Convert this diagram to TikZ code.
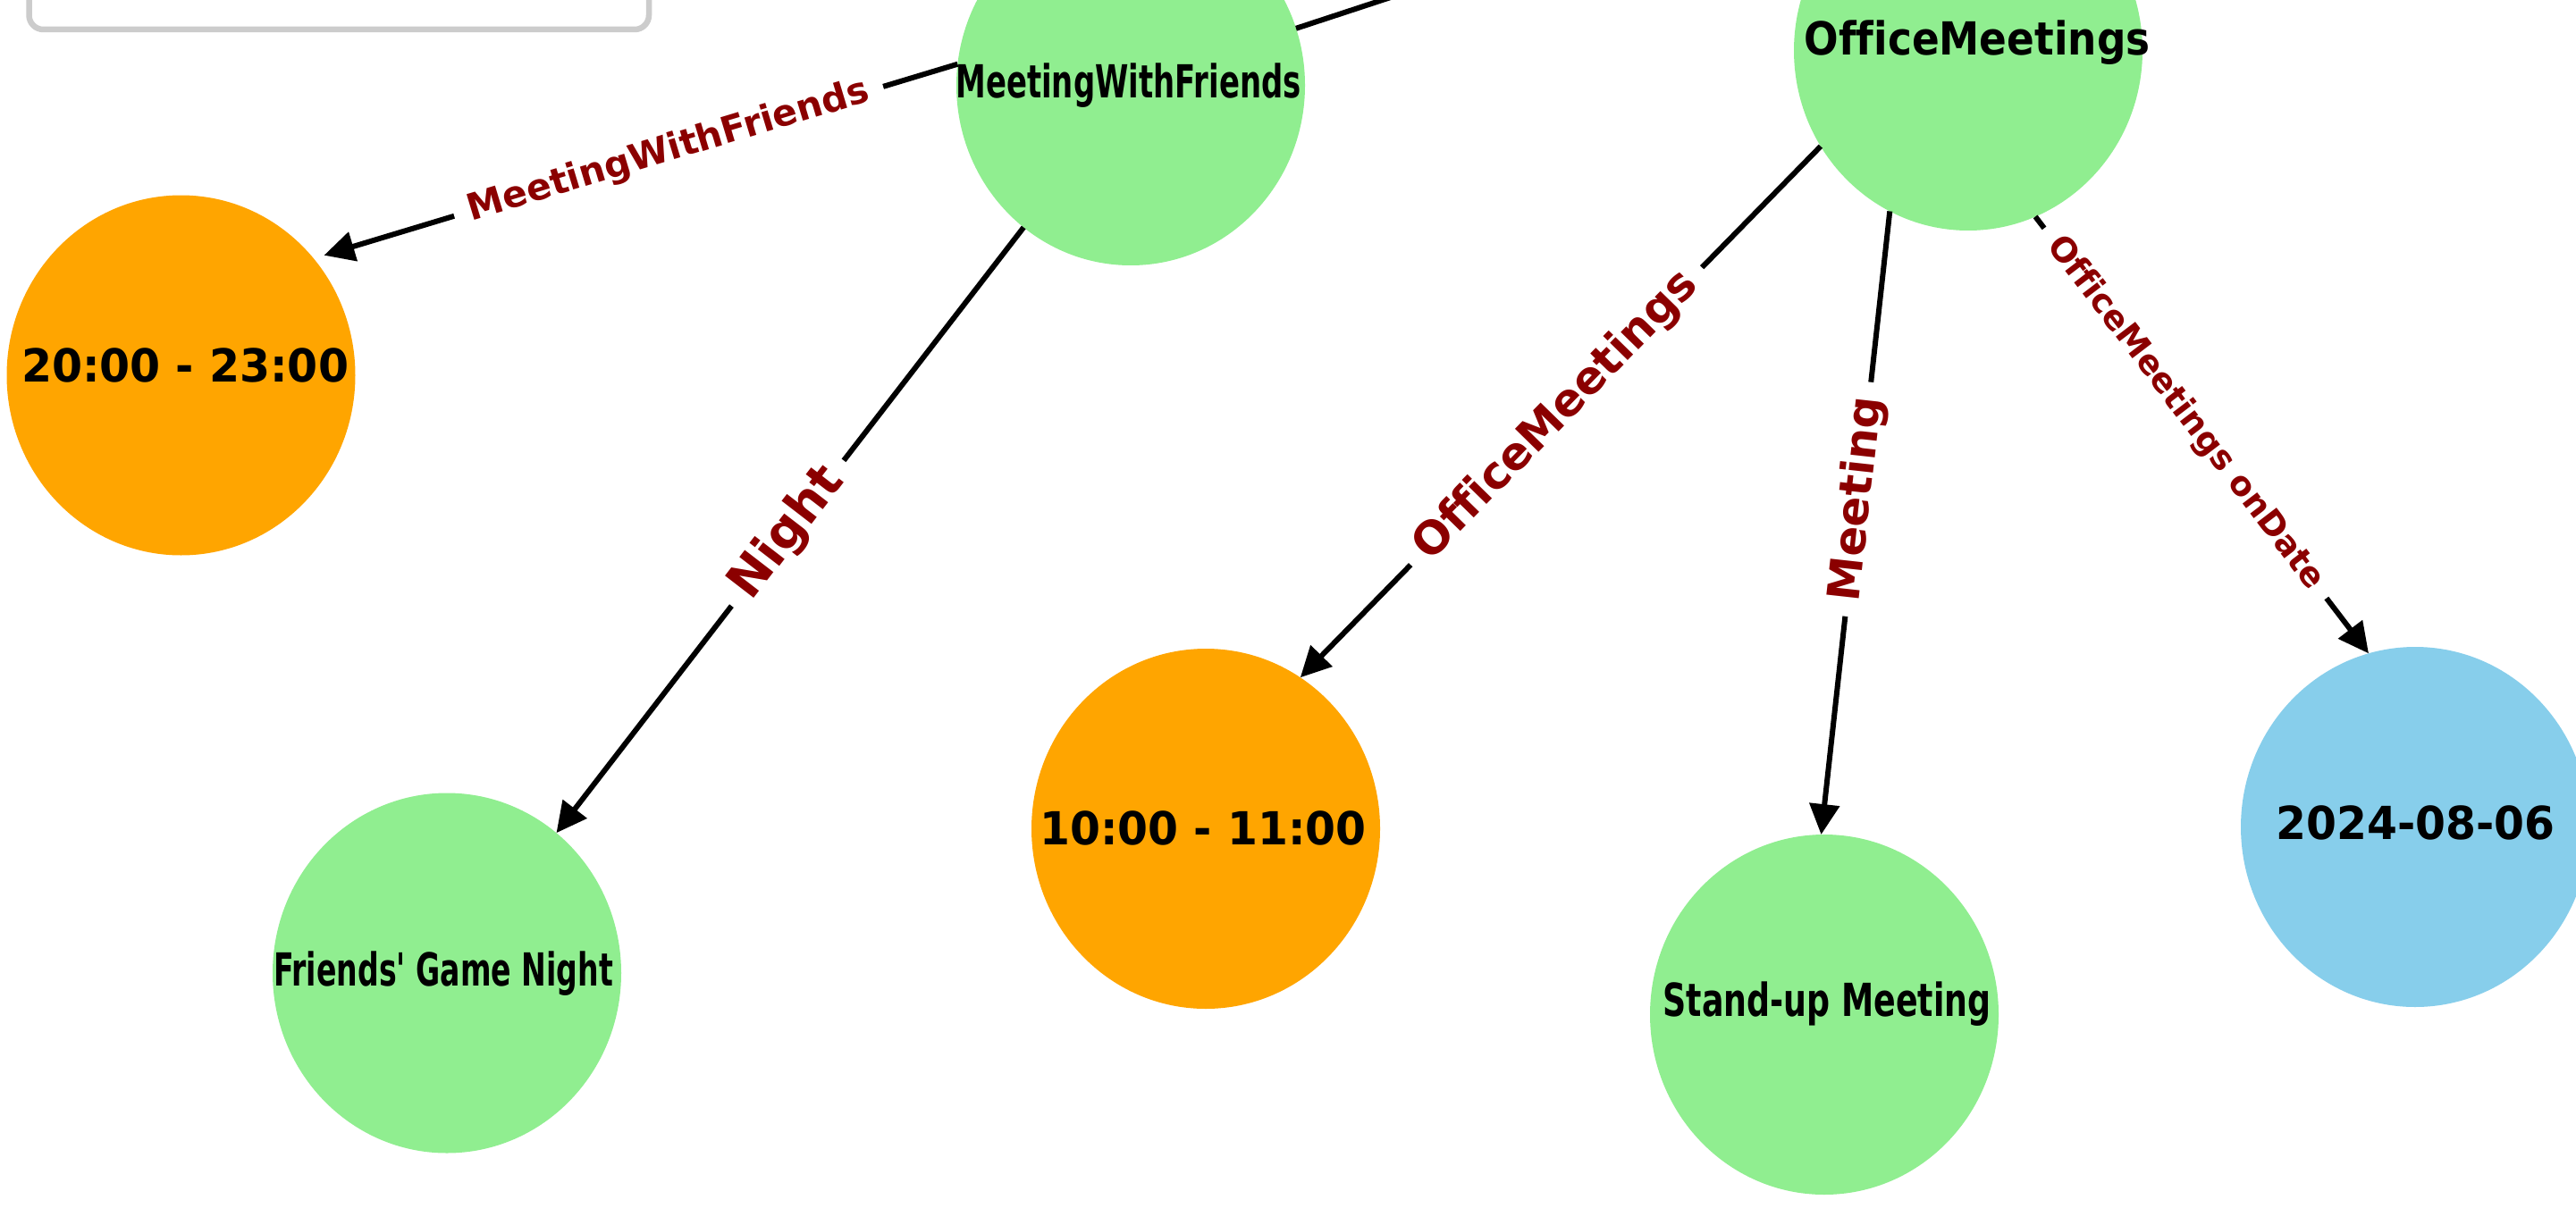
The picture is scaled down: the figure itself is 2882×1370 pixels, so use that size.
\documentclass[tikz,border=0pt]{standalone}
\usepackage{fontspec}
\setmainfont{DejaVu Sans}[Ligatures=NoCommon]
\usepackage{graphicx}
\usetikzlibrary{arrows.meta,shapes.geometric,calc}
\definecolor{nodegreen}{HTML}{90EE90}
\definecolor{nodeorange}{HTML}{FFA500}
\definecolor{nodeblue}{HTML}{87CEEB}
\definecolor{edgered}{HTML}{8B0000}
\definecolor{legendgray}{HTML}{CCCCCC}
\newcommand{\fitwidth}[2]{\resizebox{#1}{\height}{#2}}
\begin{document}
\begin{tikzpicture}[x=0.1mm,y=-0.1mm,
  bubble/.style={ellipse, minimum width=39mm, minimum height=40.3mm, inner sep=0pt, outer sep=0pt, draw=none},
  nodelabel/.style={inner sep=0pt, outer sep=0pt, anchor=base, font=\fontsize{14.5}{17}\selectfont\bfseries},
  rel/.style={line width=0.6mm, -{Triangle[length=3.4mm,width=3.3mm]}},
  plainrel/.style={line width=0.6mm},
  edgelabel/.style={sloped, fill=white, text=edgered, inner xsep=1.7mm, inner ysep=0.6mm, font=\fontsize{#1}{#1}\selectfont\bfseries},
  legendbox/.style={draw=legendgray, line width=0.65mm, rounded corners=1.6mm, fill=white}
]
\useasboundingbox (0,0) rectangle (2882,1370);
\clip (0,0) rectangle (2882,1370);
\fill[white] (0,0) rectangle (2882,1370);

% nodes
\node[bubble, fill=nodegreen]  (mwf)  at (1265,95.5)   {};
\node[bubble, fill=nodegreen]  (om)   at (2202,56.5)   {};
\node[bubble, fill=nodeorange] (t1)   at (202.5,420)   {};
\node[bubble, fill=nodegreen]  (fgn)  at (500,1089)    {};
\node[bubble, fill=nodeorange] (t2)   at (1349,927.5)  {};
\node[bubble, fill=nodegreen]  (sum)  at (2041,1135.5) {};
\node[bubble, fill=nodeblue]   (date) at (2702,925.5)  {};

% node texts
\node[nodelabel] (mwftext)  at (1262.5,110) {\fitwidth{38.6mm}{MeetingWithFriends}};
\node[nodelabel] (omtext)   at (2212,62)    {\fitwidth{38.7mm}{OfficeMeetings}};
\node[nodelabel] (t1text)   at (207,427)    {\fitwidth{36.6mm}{20:00 - 23:00}};
\node[nodelabel] (fgntext)  at (496,1103)   {\fitwidth{38.0mm}{Friends\textquotesingle\ Game Night}};
\node[nodelabel] (t2text)   at (1346,945)   {\fitwidth{36.5mm}{10:00 - 11:00}};
\node[nodelabel] (sumtext)  at (2044,1137)  {\fitwidth{36.7mm}{Stand-up Meeting}};
\node[nodelabel] (datetext) at (2702.5,939) {\fitwidth{31.2mm}{2024-08-06}};

% edges
\coordinate (upend) at (1790,-80);
\draw[plainrel] (mwf.19.5) -- (upend);
\draw[rel] (mwf.173.1) -- node[edgelabel=11.67, pos=0.456] (l1) {MeetingWithFriends} ($(t1.center)!1.057!(t1.40.9)$);
\draw[rel] (mwf.233.2) -- node[edgelabel=15.8, pos=0.505] (l2) {Night} (fgn.52.5);
\draw[rel] (om.213.3) -- node[edgelabel=14.4, pos=0.508] (l3) {OfficeMeetings} (t2.58.1);
\draw[rel] (om.244.1) -- node[edgelabel=14.2, pos=0.462] (l4) {Meeting} (sum.91.7);
\draw[rel] (om.292.3) -- node[edgelabel=10.7, pos=0.45] (l5) {OfficeMeetings onDate} (date.105.7);

% legend frame
\draw[legendbox] (32.5,-300) rectangle (726,33);
\end{tikzpicture}
\end{document}
